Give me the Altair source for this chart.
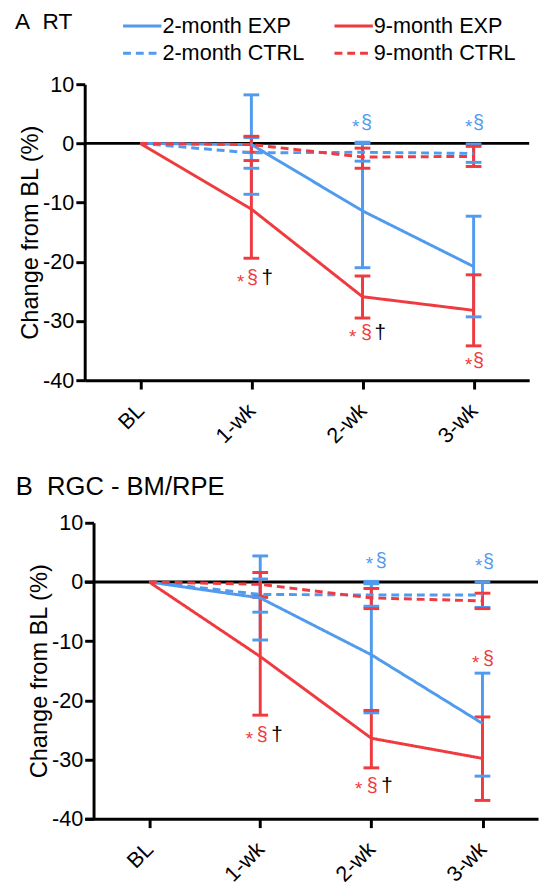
import json
import altair as alt
import pandas as pd

FONT = "Liberation Sans"
BLUE = "#519BEF"
RED = "#EF3B3F"
BLACK = "#000000"

timepoints = ["BL", "1-wk", "2-wk", "3-wk"]
series_names = ["2-month EXP", "2-month CTRL", "9-month EXP", "9-month CTRL"]
draw_order = ["2-month EXP", "2-month CTRL", "9-month EXP", "9-month CTRL"]
series_colors = [BLUE, BLUE, RED, RED]
series_dash = [[1, 0], [8, 5], [1, 0], [8, 5]]
color_of = dict(zip(series_names, series_colors))

# ---------------- Panel A: RT ----------------
a_2m_exp_mean = [0, -0.2, -11.4, -20.8]
a_2m_exp_lo = [-8.6, -21.0, -29.3]
a_2m_exp_hi = [8.2, 0.2, -12.3]

a_2m_ctrl_mean = [0, -1.6, -1.5, -1.7]
a_2m_ctrl_lo = [-4.2, -3.0, -3.2]
a_2m_ctrl_hi = [1.0, 0.0, -0.1]

a_9m_exp_mean = [0, -11.1, -25.9, -28.2]
a_9m_exp_lo = [-19.4, -29.5, -34.2]
a_9m_exp_hi = [-2.9, -22.4, -22.2]

a_9m_ctrl_mean = [0, -0.2, -2.3, -2.2]
a_9m_ctrl_lo = [-1.5, -4.2, -3.9]
a_9m_ctrl_hi = [1.2, -0.8, -0.5]

# ---------------- Panel B: RGC - BM/RPE ----------------
b_2m_exp_mean = [0, -2.7, -12.3, -23.9]
b_2m_exp_lo = [-9.8, -22.1, -32.8]
b_2m_exp_hi = [4.4, 0.1, -15.4]

b_2m_ctrl_mean = [0, -2.1, -2.2, -2.2]
b_2m_ctrl_lo = [-5.1, -4.1, -4.3]
b_2m_ctrl_hi = [0.5, -0.3, 0.0]

b_9m_exp_mean = [0, -12.6, -26.4, -29.8]
b_9m_exp_lo = [-22.5, -31.4, -36.9]
b_9m_exp_hi = [-2.6, -21.7, -22.8]

b_9m_ctrl_mean = [0, -0.4, -2.7, -3.2]
b_9m_ctrl_lo = [-2.4, -4.5, -4.5]
b_9m_ctrl_hi = [1.6, -1.1, -1.9]

# significance annotations: (timepoint index, y value, colour, star dx, section dx, dagger dx or None)
a_annotations = [
    (1, -22.7, RED, -11, 1, 16),
    (2, -32.1, RED, -10, 4, 18),
    (3, -36.8, RED, -5, 5, None),
    (2, 3.4, BLUE, -7, 4, None),
    (3, 3.4, BLUE, -5, 5, None),
]
b_annotations = [
    (1, -25.9, RED, -11, 2, 17),
    (2, -34.4, RED, -13, 1, 16),
    (3, -13.1, RED, -7, 6, None),
    (2, 3.6, BLUE, -2, 10, None),
    (3, 3.3, BLUE, -4, 6, None),
]

label_expr = json.dumps(timepoints) + "[datum.value]"
STEP = 113.0  # pixels per time step


def build_frames(means, los, his):
    line_rows, err_rows = [], []
    for s in draw_order:
        for i, v in enumerate(means[s]):
            line_rows.append({"series": s, "idx": i, "mean": v})
        for j, (lo, hi) in enumerate(zip(los[s], his[s])):
            err_rows.append({"series": s, "idx": j + 1, "lo": lo, "hi": hi, "col": color_of[s]})
    return pd.DataFrame(line_rows), pd.DataFrame(err_rows)


def make_panel(means, los, his, ann, title_text, title_x, title_y, title_size, show_legend,
               shift=0):
    line_df, err_df = build_frames(means, los, his)

    x_scale = alt.Scale(domain=[-0.5 - shift / STEP, 3.5], nice=False, zero=False)
    y_scale = alt.Scale(domain=[-40, 10], nice=False, zero=False)
    x_axis = alt.Axis(values=[0, 1, 2, 3], labelExpr=label_expr, labelAngle=-45,
                      labelAlign="right", labelBaseline="middle", labelPadding=18, title=None)
    y_axis = alt.Axis(values=[-40, -30, -20, -10, 0, 10], title="Change from BL (%)",
                      labelExpr="'' + datum.value",
                      titleFontSize=24, titleFontWeight="normal", titlePadding=0, labelPadding=2,
                      offset=-shift)

    def X(field):
        return alt.X(field, scale=x_scale, axis=x_axis, title=None)

    def Y(field):
        return alt.Y(field, scale=y_scale, axis=y_axis, title="Change from BL (%)")

    col_scale = alt.Scale(domain=series_names, range=series_colors)
    dash_scale = alt.Scale(domain=series_names, range=series_dash)

    zero = alt.Chart(pd.DataFrame({"z": [0]})).mark_rule(color="black", strokeWidth=3).encode(
        y=Y("z:Q"))

    stems = alt.Chart(err_df).mark_rule(strokeWidth=3).encode(
        x=X("idx:Q"), y=Y("lo:Q"), y2="hi:Q",
        color=alt.Color("col:N", scale=None),
    )
    caps_lo = alt.Chart(err_df).mark_rule(strokeWidth=3, xOffset=-8, x2Offset=8).encode(
        x=X("idx:Q"), x2="idx:Q", y=Y("lo:Q"),
        color=alt.Color("col:N", scale=None),
    )
    caps_hi = alt.Chart(err_df).mark_rule(strokeWidth=3, xOffset=-8, x2Offset=8).encode(
        x=X("idx:Q"), x2="idx:Q", y=Y("hi:Q"),
        color=alt.Color("col:N", scale=None),
    )
    if show_legend:
        leg = alt.Legend(orient="none", legendX=47, legendY=-71, columns=2,
                         symbolType="M-2,0L2,0", symbolSize=380, symbolStrokeWidth=3,
                         labelFontSize=22, labelFont=FONT, labelColor="black", labelOffset=9,
                         columnPadding=24, rowPadding=5, title=None, labelLimit=0)
        color_enc = alt.Color("series:N", scale=col_scale, legend=leg)
        dash_enc = alt.StrokeDash("series:N", scale=dash_scale, legend=leg)
    else:
        color_enc = alt.Color("series:N", scale=col_scale, legend=None)
        dash_enc = alt.StrokeDash("series:N", scale=dash_scale, legend=None)
    lines = alt.Chart(line_df).mark_line(strokeWidth=3).encode(
        x=X("idx:Q"), y=Y("mean:Q"),
        color=color_enc, strokeDash=dash_enc,
        order=alt.Order("idx:Q"),
    )

    layers = [zero, stems, caps_lo, caps_hi, lines]

    # annotation glyphs, one small layer each
    for idx, yv, col, sdx, pdx, ddx in ann:
        glyphs = [("*", col, sdx, 19, 4), ("\u00a7", col, pdx, 20, 0)]
        if ddx is not None:
            glyphs.append(("\u2020", BLACK, ddx, 21, 0))
        for g, gc, gdx, gsize, gdy in glyphs:
            layers.append(
                alt.Chart(pd.DataFrame({"idx": [idx], "y": [yv], "t": [g]})).mark_text(
                    font=FONT, fontSize=gsize, baseline="middle", align="center",
                    dx=gdx, dy=gdy, color=gc).encode(
                    x=X("idx:Q"), y=Y("y:Q"), text="t:N"))

    title = alt.Chart(pd.DataFrame({"t": [title_text]})).mark_text(
        font=FONT, fontSize=title_size, align="left", baseline="alphabetic", color="black").encode(
        x=alt.value(title_x + shift), y=alt.value(title_y), text="t:N")
    layers.append(title)

    if show_legend:
        # invisible anchor that fixes the top edge of the layout
        anchor = alt.Chart(pd.DataFrame({"t": ["."]})).mark_text(
            fontSize=1, opacity=0, baseline="top", align="left").encode(
            x=alt.value(0), y=alt.value(-84), text="t:N")
        layers.append(anchor)

    return alt.layer(*layers).properties(width=452 + shift, height=301)


panel_a = make_panel(
    {"2-month EXP": a_2m_exp_mean, "2-month CTRL": a_2m_ctrl_mean,
     "9-month EXP": a_9m_exp_mean, "9-month CTRL": a_9m_ctrl_mean},
    {"2-month EXP": a_2m_exp_lo, "2-month CTRL": a_2m_ctrl_lo,
     "9-month EXP": a_9m_exp_lo, "9-month CTRL": a_9m_ctrl_lo},
    {"2-month EXP": a_2m_exp_hi, "2-month CTRL": a_2m_ctrl_hi,
     "9-month EXP": a_9m_exp_hi, "9-month CTRL": a_9m_ctrl_hi},
    a_annotations, "A\u00a0\u00a0RT", -71, -56, 23, True, shift=0)

panel_b = make_panel(
    {"2-month EXP": b_2m_exp_mean, "2-month CTRL": b_2m_ctrl_mean,
     "9-month EXP": b_9m_exp_mean, "9-month CTRL": b_9m_ctrl_mean},
    {"2-month EXP": b_2m_exp_lo, "2-month CTRL": b_2m_ctrl_lo,
     "9-month EXP": b_9m_exp_lo, "9-month CTRL": b_9m_ctrl_lo},
    {"2-month EXP": b_2m_exp_hi, "2-month CTRL": b_2m_ctrl_hi,
     "9-month EXP": b_9m_exp_hi, "9-month CTRL": b_9m_ctrl_hi},
    b_annotations, "B\u00a0\u00a0RGC - BM/RPE", -79, -28, 26, False, shift=9)

chart = alt.vconcat(panel_a, panel_b, spacing=28).resolve_scale(
    color="independent", strokeDash="independent").resolve_legend(
    color="independent", strokeDash="independent").configure_view(stroke=None).configure_axis(
    domainColor="black", domainWidth=3, tickColor="black", tickWidth=3, tickSize=9,
    labelFont=FONT, labelFontSize=22, labelColor="black", titleFont=FONT, titleColor="black",
    grid=False).properties(padding={"left": 7, "top": -14, "right": 0, "bottom": 0})

chart.save("out.html", embed_options={"renderer": "svg", "actions": False})
